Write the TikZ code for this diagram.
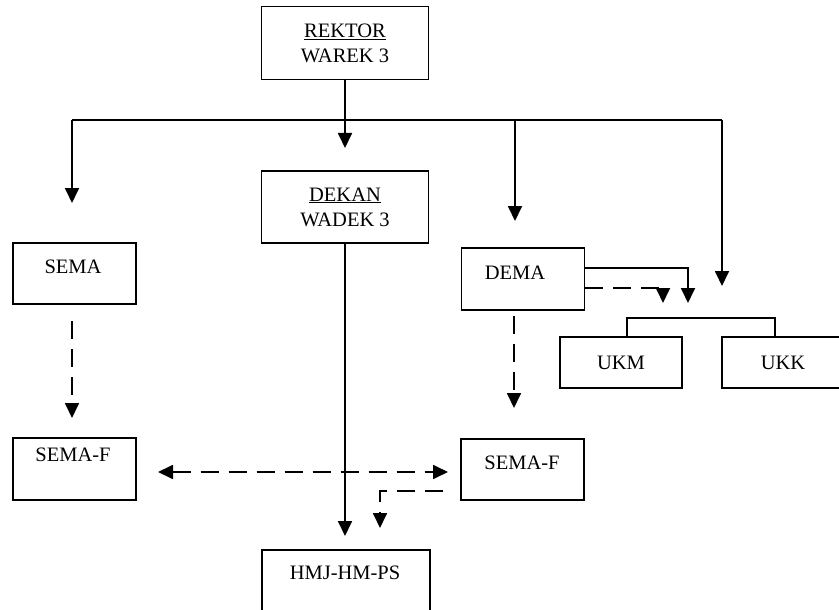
\documentclass[tikz,border=0pt]{standalone}
\usepackage{fontspec}
\setmainfont{Liberation Serif}
\usetikzlibrary{arrows.meta}
\begin{document}
\begin{tikzpicture}[x=1pt,y=-1pt,
  box/.style={draw, line width=1.8pt, inner sep=0pt, align=center,
    font=\fontsize{20.5}{25}\selectfont},
  txt/.style={inner sep=0pt, font=\fontsize{20.5}{25}\selectfont},
  ln/.style={line width=1.8pt},
  arr/.style={line width=1.8pt, -{Triangle[length=15pt,width=14pt]}},
  dsh/.style={arr, dash pattern=on 18pt off 10pt},
  brk/.style={line width=1.3pt}]
\useasboundingbox (0,0) rectangle (839,610);
\fill[white] (0,0) rectangle (839,610);
\clip (0,0) rectangle (839,610);

% boxes
\node[box, minimum width=167pt, minimum height=73pt] (rektor) at (345,43) {\underline{REKTOR}\\WAREK 3};
\node[box, minimum width=167pt, minimum height=72pt] (dekan) at (345,207) {\underline{DEKAN}\\WADEK 3};
\node[box, minimum width=123pt, minimum height=61pt] (sema) at (74.5,273.5) {};
\node[txt] (semaT) at (73,267) {SEMA};
\node[box, minimum width=123pt, minimum height=62pt] (dema) at (523,279) {};
\node[txt] (demaT) at (515,273) {DEMA};
\node[box, minimum width=122pt, minimum height=51pt] (ukm) at (621,362.5) {UKM};
\node[box, minimum width=122pt, minimum height=51pt] (ukk) at (783,362.5) {UKK};
\node[box, minimum width=123pt, minimum height=62pt] (semafL) at (74.5,469) {};
\node[txt] (semafLT) at (73,455) {SEMA-F};
\node[box, minimum width=123pt, minimum height=61pt] (semafR) at (522.5,469.5) {};
\node[txt] (semafRT) at (522,463) {SEMA-F};
\node[box, minimum width=168pt, minimum height=80pt] (hmj) at (346,590) {};
\node[txt] (hmjT) at (345,573) {HMJ-HM-PS};

% coordinates
\coordinate (hl) at (72,120);
\coordinate (hm) at (515,120);
\coordinate (hr) at (722,120);
\coordinate (dekanIn) at (345,148);
\coordinate (semaIn) at (72,203);
\coordinate (demaIn) at (515,221);
\coordinate (ukIn) at (722,286);
\coordinate (hmjIn) at (345,536);
\coordinate (semaOut) at (72,321);
\coordinate (semafLIn) at (72,418);
\coordinate (demaOut) at (514,316);
\coordinate (semafRIn) at (514,408);
\coordinate (ukS) at (688,303);
\coordinate (ukD) at (663,303);
\coordinate (fL) at (158,472);
\coordinate (fR) at (448,472);
\coordinate (sfOut) at (443,491);
\coordinate (hmjD) at (380,528);

% connectors
\draw[ln] (hl) -- (hr);
\draw[arr] (rektor.south) -- (dekanIn);
\draw[arr] (hl) -- (semaIn);
\draw[arr] (hm) -- (demaIn);
\draw[arr] (hr) -- (ukIn);
\draw[arr] (dekan.south) -- (hmjIn);
\draw[dsh] (semaOut) -- (semafLIn);
\draw[dsh] (demaOut) -- (semafRIn);
\draw[arr] ([yshift=11pt]dema.east) -| (ukS);
\draw[dsh] ([yshift=-9pt]dema.east) -| (ukD);
\draw[dsh, {Triangle[length=15pt,width=14pt]}-{Triangle[length=15pt,width=14pt]}] (fL) -- (fR);
\draw[dsh] (sfOut) -| (hmjD);
\draw[brk] ([xshift=6pt]ukm.north) |- ([xshift=-8pt,yshift=18pt]ukk.north) -- ([xshift=-8pt]ukk.north);
\end{tikzpicture}
\end{document}
